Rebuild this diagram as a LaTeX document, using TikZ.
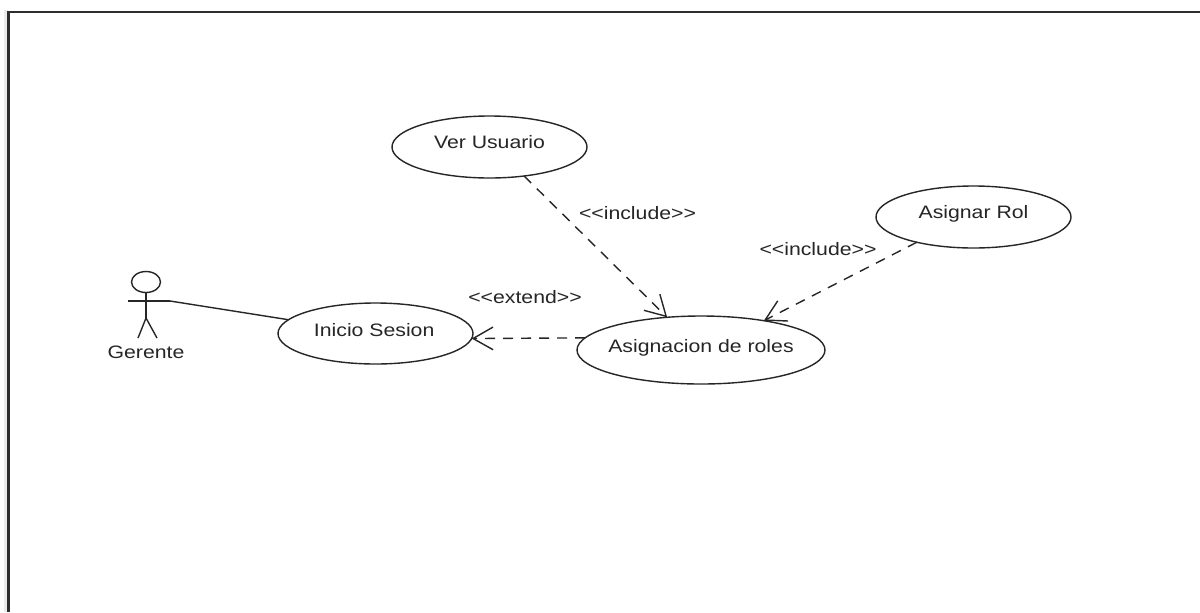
\documentclass[tikz,border=0pt]{standalone}
\usepackage{fontspec}
\usetikzlibrary{arrows.meta,shapes.geometric}
\setmainfont[FakeStretch=1.18]{Liberation Sans}
\tikzset{
  ink/.style={draw=black!85,line width=1.05pt},
  ucase/.style={ellipse,ink,fill=white,inner sep=0pt,outer sep=0pt},
  ucasetext/.style={text=black!85,font=\fontsize{13.5pt}{15pt}\selectfont,inner sep=0pt,text height=10pt,text depth=3pt},
  caption/.style={text=black!85,font=\fontsize{13.5pt}{15pt}\selectfont,inner sep=0pt},
  assoc/.style={ink},
  depend/.style={ink,dash pattern=on 7.5pt off 6pt,-{Straight Barb[length=15pt,width=17pt,line width=1.05pt]}}
}
\begin{document}
\begin{tikzpicture}[x=0.75pt,y=-0.75pt]
\useasboundingbox (0,0) rectangle (1200,612);
\fill[white] (0,0) rectangle (1200,612);
\fill[black!8] (4,10) rectangle (8,612);
\draw[black!82,line width=1.6pt] (8.5,612) -- (8.5,12) -- (1200,12);

\node[ucase,minimum width=195*0.75pt,minimum height=62*0.75pt,label={[ucasetext,yshift=2.75pt]center:Ver Usuario}] (vu) at (489.5,147) {};
\node[ucase,minimum width=195*0.75pt,minimum height=61*0.75pt,label={[ucasetext,yshift=1.6pt,xshift=-1pt]center:Inicio Sesion}] (is) at (375.5,333.5) {};
\node[ucase,minimum width=248*0.75pt,minimum height=68*0.75pt,label={[ucasetext,yshift=2pt]center:Asignacion de roles}] (an) at (701,350) {};
\node[ucase,minimum width=195*0.75pt,minimum height=62*0.75pt,label={[ucasetext,yshift=2.75pt]center:Asignar Rol}] (ar) at (973.5,217) {};

% actor
\node[ellipse,ink,inner sep=0pt,outer sep=0pt,minimum width=29*0.75pt,minimum height=21*0.75pt] (head) at (146,282) {};
\coordinate (hip) at (146,318);
\coordinate (armL) at (128,301);
\coordinate (armR) at (170,301);
\coordinate (legL) at (138,338);
\coordinate (legR) at (157,338);
\draw[ink] (head.south) -- (hip);
\draw[ink] (armL) -- (armR);
\draw[ink] (legL) -- (hip) -- (legR);
\node[caption] (gerente) at (146,352) {Gerente};

\draw[assoc] (armR) -- (is.171.9);
\draw[depend] (vu.-40.7) -- (an.136);
\draw[depend] (ar.204.2) -- (an.25.5);
\draw[depend] (an.174.8) -- (is.-3.2);

\node[caption] (l1) at (637.5,213) {<{}<include>{}>};
\node[caption] (l2) at (818,249) {<{}<include>{}>};
\node[caption] (l3) at (525,297) {<{}<extend>{}>};
\end{tikzpicture}
\end{document}
